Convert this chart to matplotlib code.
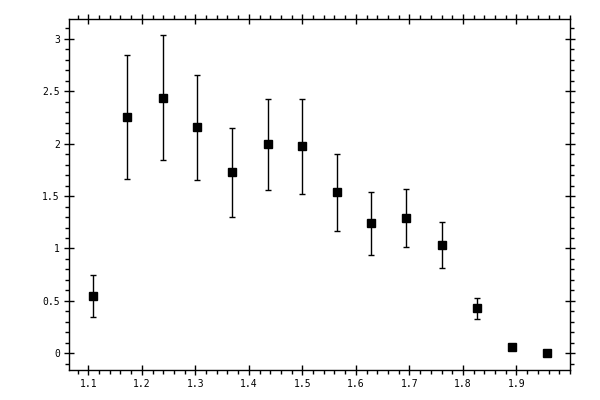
import matplotlib
matplotlib.use("Agg")
import matplotlib.pyplot as plt
from matplotlib.ticker import MultipleLocator, FixedLocator, FuncFormatter

# values
x_vals = [1.108, 1.173, 1.239, 1.304, 1.369, 1.435, 1.500, 1.564, 1.629, 1.694, 1.760, 1.826, 1.891, 1.957]
y_vals = [0.544, 2.254, 2.436, 2.159, 1.729, 1.996, 1.977, 1.538, 1.242, 1.292, 1.031, 0.430, 0.063, 0.0]
y_low = [0.344, 1.662, 1.843, 1.652, 1.300, 1.560, 1.519, 1.165, 0.936, 1.012, 0.812, 0.325, 0.048, 0.0]
y_high = [0.745, 2.849, 3.040, 2.655, 2.149, 2.426, 2.422, 1.901, 1.538, 1.566, 1.251, 0.531, 0.078, 0.0]
x_ticks = [1.1, 1.2, 1.3, 1.4, 1.5, 1.6, 1.7, 1.8, 1.9]

err_lo = [y - lo for y, lo in zip(y_vals, y_low)]
err_hi = [hi - y for y, hi in zip(y_vals, y_high)]

fig = plt.figure(figsize=(6, 4), dpi=100)
ax = fig.add_axes([0.115, 0.075, 0.835, 0.8775])

ax.errorbar(x_vals, y_vals, yerr=[err_lo, err_hi], fmt='s', color='black',
            markersize=5.5, ecolor='black', elinewidth=1, capsize=2.5, capthick=1)

ax.set_xlim(1.064, 2.0)
ax.set_ylim(-0.16, 3.19)

ax.xaxis.set_major_locator(FixedLocator(x_ticks))
ax.xaxis.set_minor_locator(MultipleLocator(0.02))
ax.yaxis.set_major_locator(MultipleLocator(0.5))
ax.yaxis.set_minor_locator(MultipleLocator(0.1))
ax.xaxis.set_major_formatter(FuncFormatter(lambda v, p: '%.1f' % v))
ax.yaxis.set_major_formatter(FuncFormatter(lambda v, p: '%g' % v))

ax.tick_params(which='major', direction='inout', length=7, width=1,
               top=True, right=True, labelsize=7, pad=3)
ax.tick_params(which='minor', direction='out', length=3, width=1,
               top=True, right=True)
for lbl in ax.get_xticklabels() + ax.get_yticklabels():
    lbl.set_family('DejaVu Sans Mono')

for sp in ax.spines.values():
    sp.set_linewidth(1)

fig.savefig('out.png', dpi=100)
